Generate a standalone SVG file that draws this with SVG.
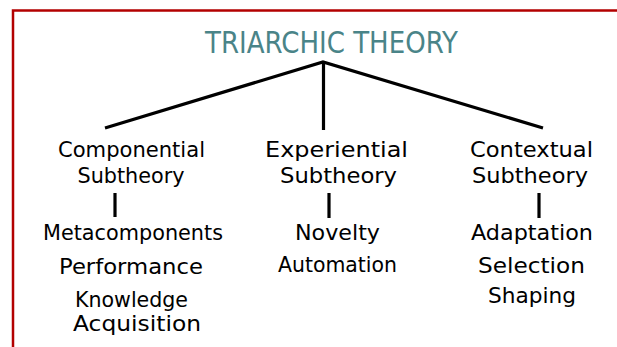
<svg xmlns="http://www.w3.org/2000/svg" width="617" height="347" viewBox="0 0 617 347">
<style>
.lbl{font-family:"DejaVu Sans","Liberation Sans",sans-serif;font-size:20.5px;fill:#000;text-anchor:middle}
.title{font-family:"DejaVu Sans","Liberation Sans",sans-serif;font-size:31px;fill:#4a8488;text-anchor:middle}
.ln{stroke:#000;stroke-width:3.2;fill:none;stroke-linecap:butt}
</style>
<rect width="617" height="347" fill="#fff"/>
<path d="M13 347 V10.5 H617" fill="none" stroke="#b30000" stroke-width="2.5"/>
<g id="title"><text class="title" x="331.5" y="53" textLength="253" lengthAdjust="spacingAndGlyphs">TRIARCHIC THEORY</text></g>
<g id="connectors">
<path class="ln" d="M105 128 L323 62 L543 128"/>
<path class="ln" d="M323.5 62 V130"/>
<path class="ln" d="M115 193 V217"/>
<path class="ln" d="M329 193 V218"/>
<path class="ln" d="M539 193 V218"/>
</g>
<g id="componential">
<text class="lbl" x="131.5" y="157" textLength="147" lengthAdjust="spacingAndGlyphs">Componential</text>
<text class="lbl" x="131" y="183" textLength="107" lengthAdjust="spacingAndGlyphs">Subtheory</text>
</g>
<g id="metacomponents"><text class="lbl" x="133" y="240" textLength="180" lengthAdjust="spacingAndGlyphs">Metacomponents</text></g>
<g id="performance"><text class="lbl" x="131" y="274" textLength="144" lengthAdjust="spacingAndGlyphs">Performance</text></g>
<g id="knowledge">
<text class="lbl" x="131.5" y="307" textLength="113" lengthAdjust="spacingAndGlyphs">Knowledge</text>
<text class="lbl" x="137" y="331" textLength="128" lengthAdjust="spacingAndGlyphs">Acquisition</text>
</g>
<g id="experiential">
<text class="lbl" x="336.5" y="157" textLength="143" lengthAdjust="spacingAndGlyphs">Experiential</text>
<text class="lbl" x="338.5" y="183" textLength="117" lengthAdjust="spacingAndGlyphs">Subtheory</text>
</g>
<g id="novelty"><text class="lbl" x="337.5" y="240" textLength="85" lengthAdjust="spacingAndGlyphs">Novelty</text></g>
<g id="automation"><text class="lbl" x="337.5" y="272" textLength="119" lengthAdjust="spacingAndGlyphs">Automation</text></g>
<g id="contextual">
<text class="lbl" x="531.5" y="157" textLength="123" lengthAdjust="spacingAndGlyphs">Contextual</text>
<text class="lbl" x="530" y="183" textLength="116" lengthAdjust="spacingAndGlyphs">Subtheory</text>
</g>
<g id="adaptation"><text class="lbl" x="532" y="240" textLength="122" lengthAdjust="spacingAndGlyphs">Adaptation</text></g>
<g id="selection"><text class="lbl" x="531.5" y="273" textLength="107" lengthAdjust="spacingAndGlyphs">Selection</text></g>
<g id="shaping"><text class="lbl" x="532" y="303" textLength="88" lengthAdjust="spacingAndGlyphs">Shaping</text></g>
</svg>
